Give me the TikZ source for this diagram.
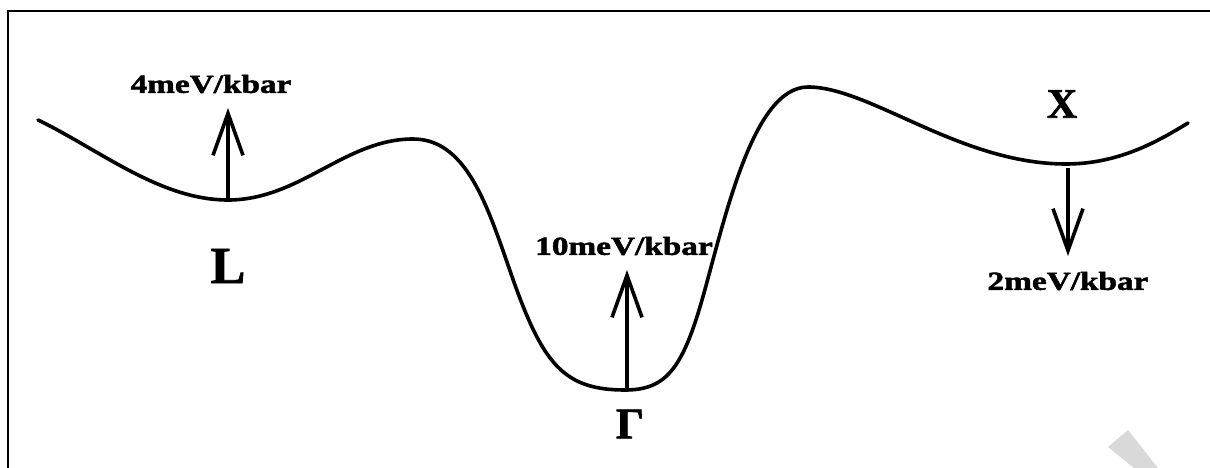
\documentclass[tikz,border=0pt]{standalone}
\usepackage{fontspec}
\usetikzlibrary{arrows.meta}
\newfontfamily\labfont[FakeStretch=1.28,FakeBold=2]{Liberation Serif}
\newfontfamily\bigfont[FakeBold=1.5]{Liberation Serif}
\tikzset{
  curve/.style={line width=3.6pt, line cap=round, line join=round},
  pressarrow/.style={line width=3.6pt, -{Straight Barb[length=42pt,width=30pt,line width=3.6pt]}},
  ratelabel/.style={font=\labfont\bfseries\fontsize{26}{28}\selectfont, inner sep=0pt},
  pointlabel/.style={font=\bigfont\bfseries\fontsize{52}{56}\selectfont, inner sep=0pt},
  frameline/.style={line width=2.8pt}
}
\begin{document}
\begin{tikzpicture}[x=1pt,y=-1pt]
\useasboundingbox (0,0) rectangle (1210,468);
% frame (left and top only)
\coordinate (fbl) at (8,468);
\coordinate (ftl) at (8,11);
\coordinate (ftr) at (1210,11);
\draw[frameline] (fbl) -- (ftl) -- (ftr);
% band curve
\coordinate (start) at (38,120);
\coordinate (Lmin) at (228,200);
\coordinate (lmax) at (413,139);
\coordinate (lw) at (515,285);
\coordinate (Gmin) at (625,390);
\coordinate (rw) at (702,300);
\coordinate (peak) at (808,87);
\coordinate (Xmin) at (1066,164);
\coordinate (finish) at (1188,123);
\draw[curve] (start) .. controls (100,150) and (160,200) .. (Lmin)
  .. controls (300,200) and (345,139) .. (lmax)
  .. controls (470,139) and (490,215) .. (lw)
  .. controls (544,365) and (565,390) .. (Gmin)
  .. controls (665,390) and (682,370) .. (rw)
  .. controls (724,223) and (752,87) .. (peak)
  .. controls (870,87) and (960,164) .. (Xmin)
  .. controls (1120,164) and (1160,140) .. (finish);
% arrows
\coordinate (Ltip) at (228,108);
\coordinate (Gbase) at (627,390);
\coordinate (Gtip) at (627,270);
\coordinate (Xbase) at (1068,168);
\coordinate (Xtip) at (1068,256);
\draw[pressarrow] (Lmin) -- (Ltip);
\draw[pressarrow] (Gbase) -- (Gtip);
\draw[pressarrow] (Xbase) -- (Xtip);
% labels
\node[ratelabel] (lL) at (211,84) {4meV/kbar};
\node[ratelabel] (lG) at (624,246) {10meV/kbar};
\node[ratelabel] (lX) at (1068,281) {2meV/kbar};
\node[pointlabel] (nL) at (228,266) {L};
\node[pointlabel, font=\bigfont\bfseries\fontsize{44}{48}\selectfont] (nG) at (630,424) {Γ};
\node[pointlabel, font=\bigfont\bfseries\fontsize{42}{46}\selectfont] (nX) at (1062,104) {X};
% watermark fragment
\fill[gray!30] (1108,447) -- (1128,430) -- (1158,468) -- (1134,468) -- cycle;
\end{tikzpicture}
\end{document}
